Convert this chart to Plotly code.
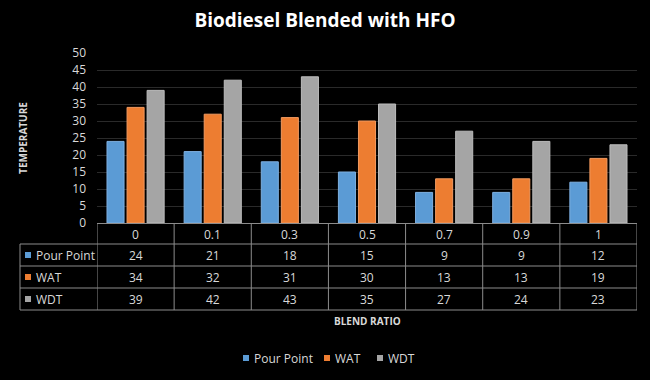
import plotly.graph_objects as go

categories = ["0", "0.1", "0.3", "0.5", "0.7", "0.9", "1"]
pour_point = [24, 21, 18, 15, 9, 9, 12]
wat = [34, 32, 31, 30, 13, 13, 19]
wdt = [39, 42, 43, 35, 27, 24, 23]
series_names = ["Pour Point", "WAT", "WDT"]
series_values = [pour_point, wat, wdt]
colors = ["#5B9BD5", "#ED7D31", "#A5A5A5"]
edge_colors = ["#7FB0E0", "#F29A60", "#BDBDBD"]

W, H = 650, 380
L, R, T, B = 97, 13, 53, 157
plot_w = W - L - R
plot_h = H - T - B
FONT = "Open Sans"
TXT = "#D9D9D9"
LINE = "#8C8C8C"

def py(p):
    return (H - B - p) / plot_h

def px(p):
    return (p - L) / plot_w

fig = go.Figure()
for name, vals, c, ec in zip(series_names, series_values, colors, edge_colors):
    fig.add_trace(go.Bar(x=categories, y=vals, name=name, showlegend=False,
                         marker=dict(color=c, line=dict(color=ec, width=1))))

n = len(categories)
shapes = []
annotations = []
row_lines = [244, 266, 288, 310]
for yl in row_lines:
    shapes.append(dict(type="line", xref="paper", yref="paper",
                       x0=px(20), x1=1, y0=py(yl), y1=py(yl),
                       line=dict(color=LINE, width=1)))
for i in range(n + 1):
    shapes.append(dict(type="line", xref="x", yref="paper",
                       x0=i - 0.5, x1=i - 0.5, y0=py(H - B), y1=py(310),
                       line=dict(color=LINE, width=1)))
shapes.append(dict(type="line", xref="paper", yref="paper",
                   x0=px(20), x1=px(20), y0=py(244), y1=py(310),
                   line=dict(color=LINE, width=1)))

for i, cat in enumerate(categories):
    annotations.append(dict(x=i, xref="x", y=py(234), yref="paper", text=cat,
                            xanchor="center", yanchor="middle",
                            showarrow=False, font=dict(family=FONT, size=12, color=TXT)))
row_centers = [255, 277, 299]
for name, vals, c, yc in zip(series_names, series_values, colors, row_centers):
    shapes.append(dict(type="rect", xref="paper", yref="paper",
                       x0=px(25), x1=px(31), y0=py(yc + 3), y1=py(yc - 3),
                       fillcolor=c, line=dict(width=0)))
    annotations.append(dict(x=px(34), xref="paper", y=py(yc), yref="paper",
                            text=name, showarrow=False, xanchor="left", yanchor="middle",
                            font=dict(family=FONT, size=12, color=TXT)))
    for i, v in enumerate(vals):
        annotations.append(dict(x=i, xref="x", y=py(yc), yref="paper", text=str(v),
                                xanchor="center", yanchor="middle",
                                showarrow=False, font=dict(family=FONT, size=12, color=TXT)))

annotations.append(dict(x=px(367), xref="paper", y=py(321), yref="paper",
                        text="<b>BLEND RATIO</b>", showarrow=False,
                        xanchor="center", yanchor="middle",
                        font=dict(family=FONT, size=10, color=TXT)))

# legend (below chart)
legend_x = [243, 324, 377]
legend_y = 358
for name, c, lx in zip(series_names, colors, legend_x):
    shapes.append(dict(type="rect", xref="paper", yref="paper",
                       x0=px(lx), x1=px(lx + 6), y0=py(legend_y + 3), y1=py(legend_y - 3),
                       fillcolor=c, line=dict(width=0)))
    annotations.append(dict(x=px(lx + 9), xref="paper", y=py(legend_y), yref="paper",
                            text=name, showarrow=False, xanchor="left", yanchor="middle",
                            font=dict(family=FONT, size=12, color=TXT)))

fig.update_layout(
    width=W, height=H,
    paper_bgcolor="black", plot_bgcolor="black",
    margin=dict(l=L, r=R, t=T, b=B, autoexpand=False),
    title=dict(text="<b>Biodiesel Blended with HFO</b>", x=0.5, xanchor="center",
               y=1 - 20 / H, yanchor="middle",
               font=dict(family=FONT, size=19, color="white")),
    barmode="group", bargap=0.22, bargroupgap=0.15,
    showlegend=False,
    xaxis=dict(showticklabels=False, showgrid=False, zeroline=False, showline=True,
               linecolor=LINE, linewidth=1, range=[-0.5, n - 0.5], automargin=False),
    yaxis=dict(range=[0, 50], dtick=5, showgrid=True, gridcolor="#2A2A2A", gridwidth=1,
               zeroline=False, showline=False, ticklabelstandoff=10, automargin=False,
               tickfont=dict(family=FONT, size=12, color=TXT),
               title=dict(text="<b>TEMPERATURE</b>", standoff=42,
                          font=dict(family=FONT, size=10, color=TXT))),
    shapes=shapes, annotations=annotations,
)
fig.write_html("out.html", config={"displayModeBar": False},
               post_script="document.body.style.margin='0';document.body.style.background='black';")
